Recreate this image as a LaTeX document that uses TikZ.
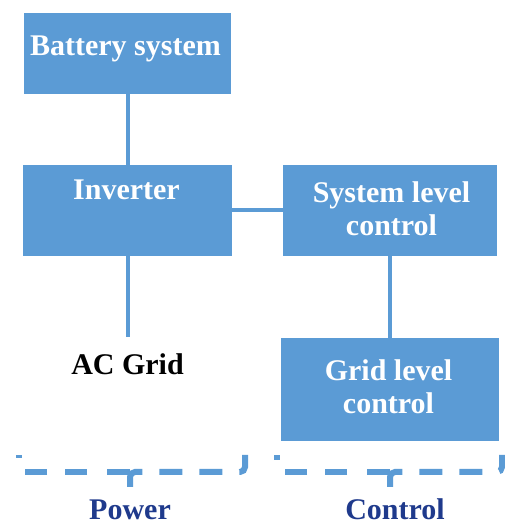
\documentclass[tikz,border=0pt]{standalone}
\usepackage{fontspec}
\setmainfont{Liberation Serif}
\definecolor{boxblue}{HTML}{5B9BD5}
\definecolor{labelnavy}{HTML}{1F3A8C}

\begin{document}
\begin{tikzpicture}[x=1pt, y=1pt,
    blk/.style={fill=boxblue, draw=none, inner sep=0pt},
    wtxt/.style={text=white, font=\fontsize{30}{33}\selectfont\bfseries, inner sep=0pt, align=center},
    btxt/.style={font=\fontsize{30}{33}\selectfont\bfseries, inner sep=0pt},
    link/.style={draw=boxblue, line width=4pt},
    halfl/.style={draw=boxblue, line width=6pt, rounded corners=5pt,
        dash pattern=on 23pt off 20pt on 22pt off 18pt on 22pt off 18pt on 10pt off 10pt},
    halfr/.style={draw=boxblue, line width=6pt, rounded corners=5pt,
        dash pattern=on 25pt off 17pt on 23pt off 17pt on 23pt off 17pt on 40pt off 10pt}]
    \useasboundingbox (0,0) rectangle (505,524);

    % Bloques
    \node[blk, minimum width=207pt, minimum height=81pt] (bat) at (127.5,470.5) {};
    \node[blk, minimum width=209pt, minimum height=91pt] (inv) at (127.5,313.5) {};
    \node[blk, minimum width=214pt, minimum height=91pt] (sys) at (390,313.5) {};
    \node[blk, minimum width=218pt, minimum height=103pt] (grid) at (390,134.5) {};

    % Textos
    \node[wtxt, anchor=base] (batlbl) at (125.5,468) {Battery system};
    \node[wtxt, anchor=base] (invlbl) at (126.5,324) {Inverter};
    \node[wtxt] (syslbl) at (391.5,315.5) {System level\\control};
    \node[wtxt] (gridlbl) at (388.5,137.7) {Grid level\\control};
    \node[btxt, anchor=base] (ac) at (127.5,149) {AC Grid};

    % Conexiones
    \draw[link] (bat.south) -- (inv.north);
    \draw[link] (inv.east) -- (sys.west);
    \draw[link] (sys.south) -- (grid.north);
    \draw[link, shorten >=17pt] (inv.south) -- (inv.south |- ac.north);

    % Llaves (Power)
    \draw[halfl] (130,52) -- (19,52) -- (19,69);
    \draw[halfr] (130,37) -- (130,52) -- (245,52) -- (245,69);
    % Llaves (Control)
    \draw[halfl] (390,52) -- (277,52) -- (277,69);
    \draw[halfr] (390,37) -- (390,52) -- (502,52) -- (502,69);

    \node[btxt, anchor=base, text=labelnavy] (power) at (130,5) {Power};
    \node[btxt, anchor=base, text=labelnavy] (control) at (395,5) {Control};
\end{tikzpicture}
\end{document}
